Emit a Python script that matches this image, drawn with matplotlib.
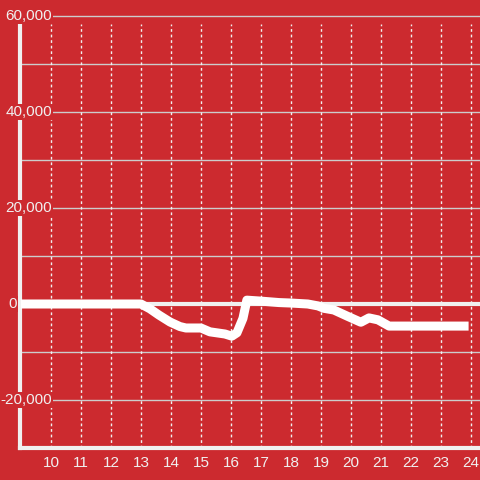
import matplotlib
matplotlib.use("Agg")
import matplotlib.pyplot as plt
from matplotlib.transforms import blended_transform_factory

# hour of day vs value
hours = [9.0, 10.0, 11.0, 12.0, 13.0, 13.3, 13.6, 13.97, 14.3, 14.5, 15.0, 15.3,
         15.8, 16.03, 16.2, 16.4, 16.53, 17.0, 17.6, 18.0, 18.56, 18.9, 19.1,
         19.43, 19.9, 20.33, 20.6, 20.9, 21.27, 22.0, 23.0, 23.92]
values = [0, 0, 0, 0, 0, -1000, -2300, -3750, -4700, -5000, -5000, -5800,
          -6250, -6700, -6000, -3000, 800, 600, 300, 200, 0, -400, -900,
          -1250, -2600, -3800, -2900, -3300, -4600, -4600, -4600, -4600]

x_ticks = list(range(10, 25))
y_ticks = [60000, 40000, 20000, 0, -20000]
y_tick_labels = ["60,000", "40,000", "20,000", "0", "-20,000"]

bg = "#cc2a2f"
fg = "#f0f0f0"
plt.rcParams["font.family"] = ["Liberation Sans", "DejaVu Sans"]

fig = plt.figure(figsize=(4.8, 4.8), dpi=100, facecolor=bg)
ax = fig.add_axes([20 / 480, 32 / 480, 460 / 480, 424 / 480], facecolor=bg)
ax.set_xlim(8.97, 24.3)
ax.set_ylim(-30000, 58333)

# horizontal grid every 10,000 (light gray), vertical dotted grid every hour
for v in range(-20000, 60001, 10000):
    if v != 0:
        ax.axhline(v, color="#cccccc", lw=1, zorder=1, clip_on=False)
for h in x_ticks:
    ax.axvline(h, color="#f0f0f0", lw=1, ls=(0, (2, 2)), zorder=1)
ax.axhline(0, color=fg, lw=3, zorder=2)

ax.plot(hours, values, color="white", lw=6.5, solid_joinstyle="round",
        solid_capstyle="butt", zorder=3)

for s in ["top", "right"]:
    ax.spines[s].set_visible(False)
for s in ["left", "bottom"]:
    ax.spines[s].set_color(fg)
    ax.spines[s].set_linewidth(3)

ax.set_yticks([])
ax.set_xticks(x_ticks)
ax.set_xticklabels([str(h) for h in x_ticks], color=fg, fontsize=11)
ax.tick_params(axis="x", length=0, pad=6)

trans = blended_transform_factory(fig.transFigure, ax.transData)
for v, lab in zip(y_ticks, y_tick_labels):
    if v == 0:
        ax.text(8 / 480, v, lab, transform=trans, ha="left", va="center",
                color=fg, fontsize=11, zorder=5, clip_on=False,
                bbox=dict(facecolor=bg, edgecolor="none", pad=1))
    else:
        ax.text(52 / 480, v, lab, transform=trans, ha="right", va="center",
                color=fg, fontsize=11, zorder=5, clip_on=False,
                bbox=dict(facecolor=bg, edgecolor="none", pad=1))

fig.savefig("out.png", dpi=100, facecolor=bg)
